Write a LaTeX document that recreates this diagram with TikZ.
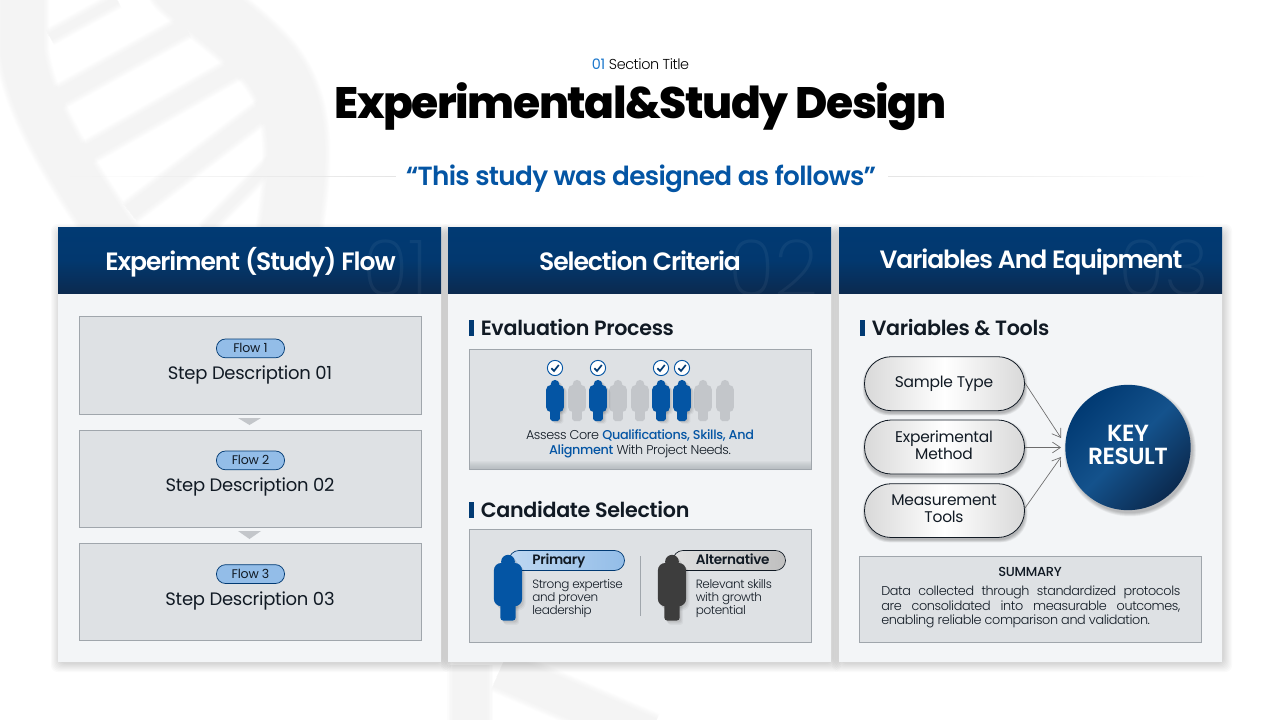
\documentclass[tikz,border=0pt]{standalone}
\usepackage{fontspec}
\setmainfont[LetterSpace=-1.5]{Poppins}
\newfontfamily\popm[LetterSpace=-2.5]{Poppins Medium}
\newfontfamily\pops[LetterSpace=-2]{Poppins SemiBold}
\newfontfamily\popsec[LetterSpace=-1.5]{Poppins SemiBold}
\newfontfamily\poph[LetterSpace=-4.3]{Poppins SemiBold}
\newfontfamily\popq[LetterSpace=-2.6]{Poppins SemiBold}
\newfontfamily\popl[LetterSpace=-3]{Poppins Light}
\newfontfamily\popt{Poppins ExtraLight}
\newfontfamily\popb[LetterSpace=-3.3]{Poppins ExtraBold}
\usetikzlibrary{arrows.meta,shapes.geometric,calc,fadings}
\definecolor{navy}{HTML}{013A73}
\definecolor{navyb}{HTML}{0B2A4F}
\definecolor{blue1}{HTML}{0455A4}
\definecolor{sky}{HTML}{1B77CC}
\definecolor{panel}{HTML}{F3F5F7}
\definecolor{boxfill}{HTML}{DEE1E4}
\definecolor{boxline}{HTML}{A0A6AC}
\definecolor{ink}{HTML}{111A24}
\definecolor{pill}{HTML}{93BDE8}
\definecolor{pale}{HTML}{C3C6CA}
\definecolor{dnacol}{HTML}{F4F4F4}
\definecolor{keymid}{HTML}{14528C}
\tikzset{
 x=0.75pt,y=-0.75pt,
 hdtext/.style={text=white,font=\poph\fontsize{18.8}{22}\selectfont,inner sep=0pt,anchor=base},
 stepbox/.style={fill=boxfill,draw=boxline,line width=.6pt},
 flowpill/.style={fill=pill,draw=navy,line width=.55pt,rounded corners=6.8pt},
 flowtext/.style={font=\fontsize{9.4}{11}\selectfont,text=ink,inner sep=0pt,anchor=base},
 steptext/.style={font=\fontsize{13.5}{16}\selectfont,text=ink,inner sep=0pt,anchor=base},
 sectext/.style={font=\popsec\fontsize{15.5}{18}\selectfont,text=ink,inner sep=0pt,anchor=base west},
 bar/.style={fill=navy,draw=none},
 tri/.style={fill=pale,draw=none},
 dnas/.style={draw=dnacol,line cap=round},
 vpill/.style={draw=ink,line width=.6pt,rounded corners=20pt,left color=gray!30,right color=gray!30,middle color=white},
 vtext/.style={font=\fontsize{11.6}{12.7}\selectfont,text=ink,align=center,inner sep=0pt},
 link/.style={draw=gray!85!black,line width=.5pt,-{Straight Barb[length=6pt,width=8pt,line width=.5pt]}},
 smalltext/.style={font=\popl\fontsize{9}{10}\selectfont,text=ink,align=left,inner sep=0pt,anchor=north west},
}
% soft shadow of a box: x1 y1 x2 y2 spread layer-opacity radius
\newcommand{\softshadow}[7]{%
 \foreach \s in {0,1,...,7}{
  \fill[black,opacity=#6,rounded corners=#7pt] ({#1-#5*\s/7},{#2-#5*\s/7}) rectangle ({#3+#5*\s/7},{#4+#5*\s/7});
 }%
}
% person icon: [options] cx top-y scale colour
\newcommand{\person}[5][]{%
 \fill[#5,#1] (#2,#3+#4*4.2) circle[radius=#4*4.3];
 \fill[#5,#1,rounded corners=#4*3.4pt] (#2-#4*8.8,#3+#4*5) rectangle (#2+#4*8.8,#3+#4*32);
 \fill[#5,#1,rounded corners=#4*1.4pt] (#2-#4*4.8,#3+#4*24) rectangle (#2+#4*4.8,#3+#4*41);
}
\newcommand{\personshadow}[3]{%
 \foreach \d/\o in {3.5/.04,2.5/.05,1.5/.06}{
  \person[black,opacity=\o]{#1+\d}{#2+\d*#3/1.3}{#3}{black}
 }%
}
\newcommand{\checkmk}[2]{%
 \fill[white] (#1,#2) circle[radius=7.6];
 \draw[blue1,line width=.7pt] (#1,#2) circle[radius=7.6];
 \draw[navy,line width=1.25pt] (#1-3.6,#2+.2) -- (#1-1,#2+3) -- (#1+3.8,#2-3);
}
\begin{document}
\begin{tikzpicture}
\useasboundingbox (0,0) rectangle (1280,720);
\fill[white] (0,0) rectangle (1280,720);
% DNA watermark (soft-edged strokes)
\foreach \g/\o in {8/.2,5/.25,2/.3,-1/.4,-4/.6}{
  \pgfmathsetmacro{\ws}{46+\g}\pgfmathsetmacro{\wr}{60+\g}
  \draw[dnas,line width=\ws*.75pt,opacity=\o] (22,-10) -- (22,50) .. controls (28,100) and (60,155) .. (100,215) .. controls (125,255) and (160,290) .. (190,320);
  \draw[dnas,line width=\wr*.75pt,opacity=\o] (180,-15) .. controls (200,5) and (245,35) .. (270,65) .. controls (300,105) and (302,150) .. (288,240);
  \pgfmathsetmacro{\wa}{18+\g}\pgfmathsetmacro{\wb}{10+\g}\pgfmathsetmacro{\wc}{38+\g}
  \draw[dnas,line width=\wb*.75pt,opacity=\o,line cap=butt] (50,37) -- (117,0);
  \draw[dnas,line width=\wa*.75pt,opacity=\o,line cap=butt] (52,101) -- (185,27);
  \draw[dnas,line width=\wa*.75pt,opacity=\o,line cap=butt] (80,157) -- (240,66);
  \draw[dnas,line width=\wa*.75pt,opacity=\o,line cap=butt] (130,212) -- (272,104);
  \draw[dnas,line width=\wb*.75pt,opacity=\o,line cap=butt] (205,230) -- (272,162);
  \draw[dnas,line width=\wc*.75pt,opacity=\o,line cap=butt] (470,665) -- (470,730);
  \draw[dnas,line width=\wc*.75pt,opacity=\o,line cap=butt] (500,670) -- (650,735);
}
% Title block
\node[inner sep=0pt,anchor=base,font=\fontsize{10.8}{12}\selectfont] (sect) at (640.5,69.5) {\textcolor{sky}{01} \popl Section Title};
\node[inner sep=0pt,anchor=base,font=\popb\fontsize{33}{40}\selectfont,text=black] (title) at (640.5,119) {Experimental\&Study Design};
\node[inner sep=0pt,anchor=base,font=\popq\fontsize{19.7}{24}\selectfont,text=blue1] (quote) at (641,185.5) {“This study was designed as follows”};
\fill[black!10,path fading=west] (70,175.6) rectangle (396,176.4);
\fill[black!10,path fading=east] (888,175.6) rectangle (1204,176.4);
% Panels
\foreach \x in {58,448,839}{
 \softshadow{\x+1}{232}{\x+385}{664}{8}{.021}{5}
}
\foreach \x/\n in {58/01,448/02,839/03}{
 \fill[panel] (\x,228) rectangle +(383,433.5);
 \shade[top color=navy,bottom color=navyb,middle color=navy!88!navyb] (\x,228) rectangle +(383,65);
 \begin{scope}
  \clip (\x,228) rectangle +(383,65);
  \node[inner sep=0pt,anchor=base east,font=\popt\fontsize{58}{60}\selectfont,text=white,opacity=.05] at (\x+371,295) {\n};
 \end{scope}
}
\node[hdtext] (h1) at (250.5,270.5) {Experiment (Study) Flow};
\node[hdtext] (h2) at (640,270.5) {Selection Criteria};
\node[hdtext] (h3) at (1031,268.5) {Variables And Equipment};
% Column 1
\foreach \i/\ya/\yb/\pt/\fb/\sb/\n in {1/316/414.7/339/352.7/379/01,2/430.3/527.7/451/464.7/491/02,3/543.3/640.5/564.7/578.7/605/03}{
 \draw[stepbox] (79.5,\ya) rectangle (421.5,\yb);
 \draw[flowpill] (216.5,\pt) rectangle (284.5,\pt+18.8);
 \node[flowtext] at (250.5,\fb) {Flow \i};
 \node[steptext] at (250,\sb) {Step Description \n};
}
\fill[tri] (238,418) -- (261,418) -- (249.5,425) -- cycle;
\fill[tri] (238,531) -- (261,531) -- (249.5,539) -- cycle;
% Column 2 – evaluation
\fill[bar] (469,320) rectangle (474,335.5);
\node[sectext] at (480.5,335) {Evaluation Process};
\fill[boxfill] (469.5,349.5) rectangle (811.5,469.5);
\foreach \k in {0,1,...,9}{
 \fill[boxline,opacity=.09] (469.5,469.5-\k) rectangle (811.5,469.5);
}
\draw[boxline,line width=.6pt] (469.5,349.5) rectangle (811.5,469.5);
\foreach \x in {577,618,640,703,725}{
 \person{\x}{380}{1}{pale}
}
\foreach \x in {555,598,661,682}{
 \personshadow{\x}{380}{1}
 \person{\x}{380}{1}{blue1}
 \checkmk{\x}{368}
}
\node[font=\popl\fontsize{9.6}{11.3}\selectfont,text=ink,align=center,inner sep=0pt] (assess) at (640,443.5) {Assess Core \textcolor{blue1}{\popm Qualifications, Skills, And}\\\textcolor{blue1}{\popm Alignment} With Project Needs.};
% Column 2 – selection
\fill[bar] (469,502) rectangle (474,517.5);
\node[sectext] at (480.5,517) {Candidate Selection};
\draw[stepbox] (469.5,529.5) rectangle (811.5,642);
\draw[boxline,line width=.4pt] (640.5,556) -- (640.5,616);
\draw[draw=navy,line width=.55pt,rounded corners=7.5pt,left color=pill!60,right color=pill] (509,550.5) rectangle (624.5,570.5);
\draw[draw=ink,line width=.5pt,rounded corners=7.5pt,left color=gray!25,right color=gray!50] (673,550.5) rectangle (785.5,570.5);
\personshadow{508}{555}{1.6}
\personshadow{672}{555}{1.6}
\person{508}{555}{1.6}{blue1}
\person{672}{555}{1.6}{black!76}
\node[font=\pops\fontsize{10.2}{12}\selectfont,text=ink,inner sep=0pt,anchor=base west] at (532,564) {Primary};
\node[font=\pops\fontsize{10.2}{12}\selectfont,text=ink,inner sep=0pt,anchor=base west] at (695.5,564) {Alternative};
\node[smalltext] at (532,579) {Strong expertise\\and proven\\leadership};
\node[smalltext] at (695.5,579) {Relevant skills\\with growth\\potential};
% Column 3
\fill[bar] (860,320) rectangle (865,335.5);
\node[sectext] at (871.5,335) {Variables \& Tools};
\foreach \ya/\yb in {356.7/410.7,420/474,483.7/537.5}{
 \softshadow{865}{\ya+2.5}{1025}{\yb+2.5}{2.5}{.035}{20}
 \path[vpill] (864.5,\ya) rectangle (1024.5,\yb);
}
\node[vtext] (v1) at (944,383.5) {Sample Type};
\node[vtext] (v2) at (944,445.5) {Experimental\\Method};
\node[vtext] (v3) at (944,508.5) {Measurement\\Tools};
\coordinate (p1) at (1025,383);
\coordinate (p2) at (1025,447.5);
\coordinate (p3) at (1025,508);
\coordinate (kin1) at (1061,438);
\coordinate (kin2) at (1061,447.5);
\coordinate (kin3) at (1061,457);
\draw[link] (p1) -- (kin1);
\draw[link] (p2) -- (kin2);
\draw[link] (p3) -- (kin3);
\foreach \s in {0,1,...,7}{
 \fill[black,opacity=.03] (1130,450.5) circle[radius={62.5+\s/2}];
}
\node[circle,minimum size=94pt,inner sep=0pt,left color=navy,right color=navyb,middle color=keymid,shading angle=45] (key) at (1128,447.5) {};
\node[font=\pops\fontsize{17.5}{17.5}\selectfont,text=white,align=center,inner sep=0pt] (keyt) at (1128,445) {KEY\\RESULT};
\draw[stepbox] (859.5,556.5) rectangle (1201.5,642.5);
\node[font=\popm\fontsize{9.8}{12}\selectfont,text=ink,inner sep=0pt] (summ) at (1030,572) {SUMMARY};
\node[font=\popl\fontsize{9.6}{11}\selectfont,text=ink,align=left,inner sep=0pt,anchor=north west] (sumt) at (881,585.5) {\makebox[224.3pt][s]{Data collected through standardized protocols}\\\makebox[224.3pt][s]{are consolidated into measurable outcomes,}\\enabling reliable comparison and validation.};
\end{tikzpicture}
\end{document}
